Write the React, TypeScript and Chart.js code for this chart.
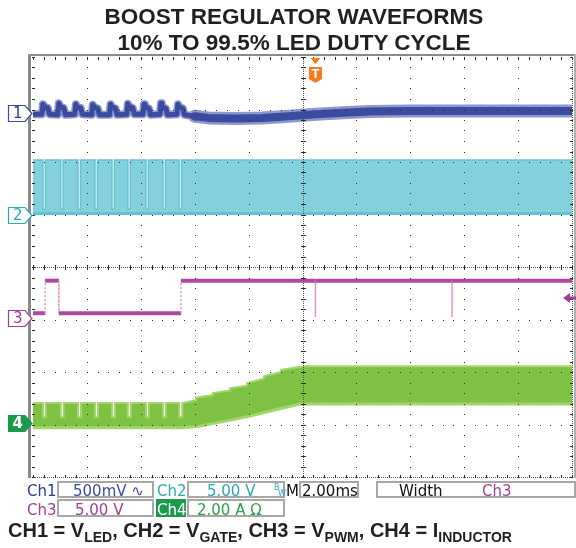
import React, { useEffect, useRef } from "react";
import { Chart, registerables } from "chart.js";

Chart.register(...registerables);

// ---- scope set-up: time in ms (2.00 ms/div, trigger-centred), vertical in divisions ----
const TIME_MIN = -10;
const TIME_MAX = 10;
const DIV_MIN = -4;
const DIV_MAX = 4;

const TITLE_LINES = ["BOOST REGULATOR WAVEFORMS", "10% TO 99.5% LED DUTY CYCLE"];

// channel ground markers (divisions)
const CHANNEL_LABELS = ["1", "2", "3", "4"];
const CHANNEL_OFFSETS = [2.93, 1.0, -0.97, -2.97];
const TRIGGER_TIME = 0.48;
const CH3_TRIGGER_LEVEL = -0.59;

// PWM-off instants during the 10% duty-cycle section (ms)
const PWM_OFF_TIMES = [-9.63, -8.97, -8.33, -7.7, -7.07, -6.48, -5.81, -5.18, -4.58];

// CH1 = V_LED
const CH1_T = [
  -10, -9.67, -9.63, -9.6, -9.45, -9.39,
  -9.08, -9.04, -9.01, -8.86, -8.8,
  -8.45, -8.41, -8.38, -8.23, -8.17,
  -7.82, -7.78, -7.75, -7.6, -7.54,
  -7.16, -7.12, -7.09, -6.94, -6.88,
  -6.52, -6.48, -6.45, -6.3, -6.24,
  -5.92, -5.88, -5.85, -5.7, -5.64,
  -5.29, -5.25, -5.22, -5.07, -5.01,
  -4.66, -4.62, -4.59, -4.44, -4.38,
  -4.0, -3.5, -2.5, -1.5, -0.5, 0.5, 1.5, 2.5, 4.0, 10,
];
const CH1_V = [
  2.91, 2.91, 3.1, 3.06, 3.03, 2.91,
  2.9, 3.12, 3.06, 3.03, 2.9,
  2.91, 3.1, 3.05, 3.03, 2.91,
  2.9, 3.09, 3.05, 3.02, 2.9,
  2.9, 3.1, 3.05, 3.02, 2.9,
  2.91, 3.11, 3.06, 3.03, 2.91,
  2.91, 3.1, 3.05, 3.02, 2.9,
  2.91, 3.12, 3.06, 3.02, 2.9,
  2.91, 3.1, 3.05, 3.02, 2.9,
  2.87, 2.84, 2.83, 2.84, 2.87, 2.91, 2.94, 2.96, 2.97, 2.97,
];

// CH2 = V_GATE (switching band)
const CH2_HIGH = 2.04;
const CH2_LOW = 1.02;
const CH2_GAP_FLOOR = 1.1;
const CH2_GAP_WIDTH = 0.09;

// CH3 = V_PWM
const CH3_T = [-10, -9.55, -9.55, -9.04, -9.04, -4.51, -4.51, 0.48, 0.48, 0.48, 5.55, 5.55, 5.55, 10];
const CH3_V = [-0.88, -0.88, -0.26, -0.26, -0.88, -0.88, -0.26, -0.26, -0.95, -0.26, -0.26, -0.95, -0.26, -0.26];

// CH4 = I_INDUCTOR (ripple band)
const CH4_TOP_LOW_DUTY = -2.59;
const CH4_NOTCH_FLOOR = -2.86;
const CH4_NOTCH_WIDTH = 0.11;
const CH4_RAMP_TOP_T = [-4.45, -3.95, -3.95, -3.32, -3.32, -2.69, -2.69, -2.06, -2.06, -1.43, -1.43, -0.8, -0.8, -0.17, 0.1, 10];
const CH4_RAMP_TOP_V = [-2.59, -2.54, -2.49, -2.44, -2.4, -2.35, -2.31, -2.26, -2.21, -2.13, -2.08, -2.0, -1.96, -1.91, -1.89, -1.89];
const CH4_BOTTOM_T = [-10, -4.5, -3.9, -3.0, -1.95, -1.0, -0.1, 10];
const CH4_BOTTOM_V = [-3.06, -3.06, -3.04, -2.95, -2.84, -2.72, -2.61, -2.61];

const COLORS = {
  ch1: "#3b4ba0",
  ch1Light: "#8d98cd",
  ch2: "#84d1de",
  ch2Edge: "#62c3d3",
  ch3: "#b3479f",
  ch3Light: "#d88fcb",
  ch4: "#7dc242",
  ch4Light: "#a3d56c",
  trig: "#f47b20",
};

const zip = (ts: number[], vs: number[]) => ts.map((t, i) => ({ x: t, y: vs[i] }));

function notchedBand(top: number, floor: number, gaps: number[], width: number, start: number, end: number) {
  const pts: { x: number; y: number }[] = [{ x: start, y: top }];
  gaps.forEach((g) => {
    pts.push({ x: g, y: top }, { x: g, y: floor }, { x: g + width, y: floor }, { x: g + width, y: top });
  });
  pts.push({ x: end, y: top });
  return pts;
}

const scopePlugin = {
  id: "scopeGrid",
  afterDatasetsDraw(chart: any) {
    const { ctx, chartArea: a, scales } = chart;
    const xs = scales.x;
    const ys = scales.y;
    ctx.save();
    const xMinor: number[] = [];
    for (let i = 0; i <= 50; i++) xMinor.push(TIME_MIN + i * 0.4);
    const yMinor: number[] = [];
    for (let i = 0; i <= 40; i++) yMinor.push(DIV_MIN + i * 0.2);
    const px = (v: number) => Math.round(xs.getPixelForValue(v));
    const py = (v: number) => Math.round(ys.getPixelForValue(v));

    ctx.fillStyle = "#2a2a2a";
    // internal vertical grid lines (dotted)
    for (let v = TIME_MIN + 2; v < TIME_MAX; v += 2) {
      if (v === 0) continue;
      const X = px(v);
      yMinor.forEach((m) => ctx.fillRect(X, py(m), 1, 1));
    }
    // internal horizontal grid lines
    for (let v = DIV_MIN + 1; v < DIV_MAX; v++) {
      if (v === 0) continue;
      const Y = py(v);
      xMinor.forEach((m) => ctx.fillRect(px(m), Y, 1, 1));
    }
    // centre axes with ticks
    const cx = px(0);
    const cy = py(0);
    ctx.fillStyle = "#555";
    for (let Y = Math.round(a.top); Y <= a.bottom; Y += 2) ctx.fillRect(cx, Y, 1, 1);
    for (let X = Math.round(a.left); X <= a.right; X += 2) ctx.fillRect(X, cy, 1, 1);
    ctx.fillStyle = "#2a2a2a";
    yMinor.forEach((m) => ctx.fillRect(cx - 2, py(m), 5, 1));
    xMinor.forEach((m) => ctx.fillRect(px(m), cy - 2, 1, 5));

    // frame
    const L = Math.round(a.left);
    const R = Math.round(a.right);
    const T = Math.round(a.top);
    const B = Math.round(a.bottom);
    ctx.fillStyle = "#8a8a8a";
    ctx.fillRect(L - 5, T - 3, 3, B - T + 4);
    ctx.fillRect(L - 5, T - 3, R - L + 9, 2);
    ctx.fillStyle = "#b0b0b0";
    ctx.fillRect(R + 2, T - 3, 2, B - T + 4);
    ctx.fillStyle = "#555";
    for (let X = L; X <= R; X += 2) ctx.fillRect(X, B, 1, 1);
    for (let Y = T; Y <= B; Y += 2) ctx.fillRect(R, Y, 1, 1);
    ctx.fillStyle = "#2a2a2a";
    xMinor.forEach((m) => {
      const X = px(m);
      ctx.fillRect(X, T, 1, 3);
      ctx.fillRect(X, B - 2, 1, 3);
    });
    yMinor.forEach((m) => {
      const Y = py(m);
      ctx.fillRect(L - 1, Y, 3, 1);
      ctx.fillRect(R - 2, Y, 3, 1);
    });
    ctx.restore();
  },
  afterDraw(chart: any) {
    const { ctx, chartArea: a, scales } = chart;
    const ys = scales.y;
    const xs = scales.x;
    ctx.save();
    const styles = [
      { stroke: COLORS.ch1, fill: "#fff", text: "#2e3c96" },
      { stroke: "#2aa8b6", fill: "#fff", text: "#2aa8b6" },
      { stroke: "#a23c95", fill: "#fff", text: "#a23c95" },
      { stroke: "#1a9a4c", fill: "#1a9a4c", text: "#fff" },
    ];
    CHANNEL_OFFSETS.forEach((off, i) => {
      const cy = Math.round(ys.getPixelForValue(off)) + 0.5;
      const x0 = a.left - 24.5;
      const x1 = a.left - 8;
      const tip = a.left - 1;
      ctx.beginPath();
      ctx.moveTo(x0, cy - 8);
      ctx.lineTo(x1, cy - 8);
      ctx.lineTo(tip, cy);
      ctx.lineTo(x1, cy + 8);
      ctx.lineTo(x0, cy + 8);
      ctx.closePath();
      ctx.fillStyle = styles[i].fill;
      ctx.fill();
      ctx.lineWidth = 1.2;
      ctx.strokeStyle = styles[i].stroke;
      ctx.stroke();
      ctx.fillStyle = styles[i].text;
      ctx.font = (i === 3 ? "bold " : "") + "15px 'DejaVu Sans', sans-serif";
      ctx.textAlign = "center";
      ctx.textBaseline = "middle";
      ctx.fillText(CHANNEL_LABELS[i], (x0 + x1) / 2 + 1, cy + 1);
    });

    // trigger position marker
    const tx = xs.getPixelForValue(TRIGGER_TIME);
    ctx.fillStyle = COLORS.trig;
    ctx.beginPath();
    ctx.moveTo(tx - 5, a.top + 1);
    ctx.lineTo(tx + 5, a.top + 1);
    ctx.lineTo(tx, a.top + 7);
    ctx.closePath();
    ctx.fill();
    ctx.beginPath();
    ctx.moveTo(tx - 6.5, a.top + 10);
    ctx.lineTo(tx + 6.5, a.top + 10);
    ctx.lineTo(tx + 6.5, a.top + 22);
    ctx.lineTo(tx, a.top + 26);
    ctx.lineTo(tx - 6.5, a.top + 22);
    ctx.closePath();
    ctx.fill();
    ctx.fillStyle = "#fff";
    ctx.font = "bold 13px 'Liberation Sans', Arial, sans-serif";
    ctx.textAlign = "center";
    ctx.textBaseline = "middle";
    ctx.fillText("T", tx, a.top + 17.5);

    // CH3 trigger level arrow
    const ly = ys.getPixelForValue(CH3_TRIGGER_LEVEL);
    ctx.fillStyle = "#a23c95";
    ctx.beginPath();
    ctx.moveTo(a.right - 9, ly);
    ctx.lineTo(a.right - 2, ly - 5);
    ctx.lineTo(a.right - 2, ly + 5);
    ctx.closePath();
    ctx.fill();
    ctx.fillRect(a.right - 3, ly - 1.5, 7, 3);
    ctx.restore();
  },
};

const FONT_SCOPE = "'DejaVu Sans', sans-serif";

function Txt(props: { x: number; y: number; color: string; children: React.ReactNode; size?: number }) {
  return (
    <div
      style={{
        position: "absolute",
        left: props.x,
        top: props.y,
        color: props.color,
        fontFamily: FONT_SCOPE,
        fontSize: props.size ?? 15,
        lineHeight: "16px",
        whiteSpace: "nowrap",
      }}
    >
      {props.children}
    </div>
  );
}

function Box(props: { x: number; y: number; w: number; h: number; bg?: string }) {
  return (
    <div
      style={{
        position: "absolute",
        left: props.x,
        top: props.y,
        width: props.w,
        height: props.h,
        boxSizing: "border-box",
        border: props.bg ? "none" : "2px solid #a8a8a8",
        background: props.bg ?? "#fff",
      }}
    />
  );
}

export default function App() {
  const canvasRef = useRef<HTMLCanvasElement>(null);

  useEffect(() => {
    const ch2Upper = notchedBand(CH2_HIGH, CH2_GAP_FLOOR, PWM_OFF_TIMES, CH2_GAP_WIDTH, TIME_MIN, TIME_MAX);
    const ch2Lower = [
      { x: TIME_MIN, y: CH2_LOW },
      { x: TIME_MAX, y: CH2_LOW },
    ];
    const ch4Upper = notchedBand(
      CH4_TOP_LOW_DUTY,
      CH4_NOTCH_FLOOR,
      PWM_OFF_TIMES,
      CH4_NOTCH_WIDTH,
      TIME_MIN,
      CH4_RAMP_TOP_T[0]
    ).concat(zip(CH4_RAMP_TOP_T, CH4_RAMP_TOP_V).slice(1));
    const ch4Lower = zip(CH4_BOTTOM_T, CH4_BOTTOM_V);
    const ch1 = zip(CH1_T, CH1_V);
    const ch3 = zip(CH3_T, CH3_V);
    const lowDutyEnd = -4.35;

    const chart = new Chart(canvasRef.current as HTMLCanvasElement, {
      type: "line",
      data: {
        datasets: [
          {
            label: "CH2 upper",
            data: ch2Upper,
            borderColor: COLORS.ch2Edge,
            borderWidth: 1.5,
            backgroundColor: COLORS.ch2,
            fill: "+1",
            order: 7,
          },
          {
            label: "CH2 lower",
            data: ch2Lower,
            borderColor: COLORS.ch2Edge,
            borderWidth: 3,
            fill: false,
            order: 6,
          },
          {
            label: "CH4 upper",
            data: ch4Upper,
            borderColor: COLORS.ch4Light,
            borderWidth: 2,
            backgroundColor: COLORS.ch4,
            fill: "+1",
            order: 5,
          },
          {
            label: "CH4 lower",
            data: ch4Lower,
            borderColor: COLORS.ch4Light,
            borderWidth: 3,
            fill: false,
            order: 4,
          },
          {
            label: "CH1 halo",
            data: ch1,
            borderColor: COLORS.ch1Light,
            borderWidth: 9,
            borderJoinStyle: "round",
            borderCapStyle: "round",
            fill: false,
            order: 3,
            segment: {
              borderWidth: (c: any) => (c.p0.parsed.x < lowDutyEnd ? 8 : 13),
            },
          },
          {
            label: "CH1",
            data: ch1,
            borderColor: COLORS.ch1,
            borderWidth: 5,
            borderJoinStyle: "round",
            borderCapStyle: "round",
            fill: false,
            order: 2,
            segment: {
              borderWidth: (c: any) => (c.p0.parsed.x < lowDutyEnd ? 5 : 8),
            },
          },
          {
            label: "CH3",
            data: ch3,
            borderColor: COLORS.ch3,
            borderWidth: 4,
            fill: false,
            order: 1,
            segment: {
              borderColor: (c: any) => (c.p0.parsed.x === c.p1.parsed.x ? COLORS.ch3Light : undefined),
              borderWidth: (c: any) => (c.p0.parsed.x === c.p1.parsed.x ? 1.5 : undefined),
              borderDash: (c: any) => (c.p0.parsed.x === c.p1.parsed.x ? [2, 2] : undefined),
            },
          },
        ] as any,
      },
      options: {
        responsive: false,
        animation: false,
        devicePixelRatio: 1,
        parsing: true,
        elements: { point: { radius: 0, hoverRadius: 0 }, line: { tension: 0 } },
        layout: { padding: { left: 33, right: 4, top: 57, bottom: 71 } },
        scales: {
          x: { type: "linear", min: TIME_MIN, max: TIME_MAX, display: false },
          y: { type: "linear", min: DIV_MIN, max: DIV_MAX, display: false },
        },
        plugins: {
          legend: { display: false },
          title: { display: false },
          tooltip: { enabled: false },
        },
        events: [],
      } as any,
      plugins: [scopePlugin],
    });
    return () => chart.destroy();
  }, []);

  const titleStyle: React.CSSProperties = {
    position: "absolute",
    left: 12,
    width: 564,
    textAlign: "center",
    fontFamily: "'Liberation Sans', Arial, sans-serif",
    fontWeight: "bold",
    fontSize: 22.5,
    lineHeight: "22.5px",
    color: "#231f20",
    whiteSpace: "nowrap",
  };
  const subStyle: React.CSSProperties = { fontSize: 14, verticalAlign: -5 };

  return (
    <div
      style={{
        position: "absolute",
        left: 0,
        top: 0,
        width: 576,
        height: 548,
        background: "#fff",
        overflow: "hidden",
      }}
    >
      <canvas
        ref={canvasRef}
        width={576}
        height={548}
        style={{ position: "absolute", left: 0, top: 0, width: 576, height: 548 }}
      />
      <div style={{ ...titleStyle, top: 6 }}>{TITLE_LINES[0]}</div>
      <div style={{ ...titleStyle, top: 32 }}>{TITLE_LINES[1]}</div>

      {/* scope read-out, row 1 */}
      <Txt x={27} y={483} color="#2e3c96">Ch1</Txt>
      <Box x={57} y={481} w={97} h={17} />
      <Txt x={73} y={483} color="#3b4ba0">500mV ∿</Txt>
      <Txt x={157} y={483} color="#2aa8b6">Ch2</Txt>
      <Box x={187} y={481} w={98} h={17} />
      <Txt x={207} y={483} color="#2aa8b6">5.00 V</Txt>
      <Txt x={274} y={480} color="#2aa8b6" size={8}>B</Txt>
      <Txt x={278} y={486} color="#2aa8b6" size={8}>W</Txt>
      <Txt x={286} y={483} color="#111">M</Txt>
      <Box x={299} y={481} w={60} h={17} />
      <Txt x={302} y={483} color="#111">2.00ms</Txt>
      <Box x={376} y={481} w={200} h={17} />
      <Txt x={399} y={483} color="#111">Width</Txt>
      <Txt x={482} y={483} color="#a23c95">Ch3</Txt>

      {/* scope read-out, row 2 */}
      <Txt x={27} y={502} color="#a23c95">Ch3</Txt>
      <Box x={57} y={499} w={97} h={18} />
      <Txt x={75} y={502} color="#a23c95">5.00 V</Txt>
      <Box x={156} y={499} w={30} h={18} bg="#1a9a4c" />
      <Txt x={157} y={502} color="#ffffff">Ch4</Txt>
      <Box x={187} y={499} w={98} h={18} />
      <Txt x={197} y={502} color="#2e9e4a">2.00 A Ω</Txt>

      <div
        style={{
          position: "absolute",
          left: 8,
          top: 520,
          fontFamily: "'Liberation Sans', Arial, sans-serif",
          fontWeight: "bold",
          fontSize: 20,
          lineHeight: "20px",
          color: "#231f20",
          whiteSpace: "nowrap",
        }}
      >
        CH1 = V<span style={subStyle}>LED</span>, CH2 = V<span style={subStyle}>GATE</span>, CH3 = V
        <span style={subStyle}>PWM</span>, CH4 = I<span style={subStyle}>INDUCTOR</span>
      </div>
    </div>
  );
}
